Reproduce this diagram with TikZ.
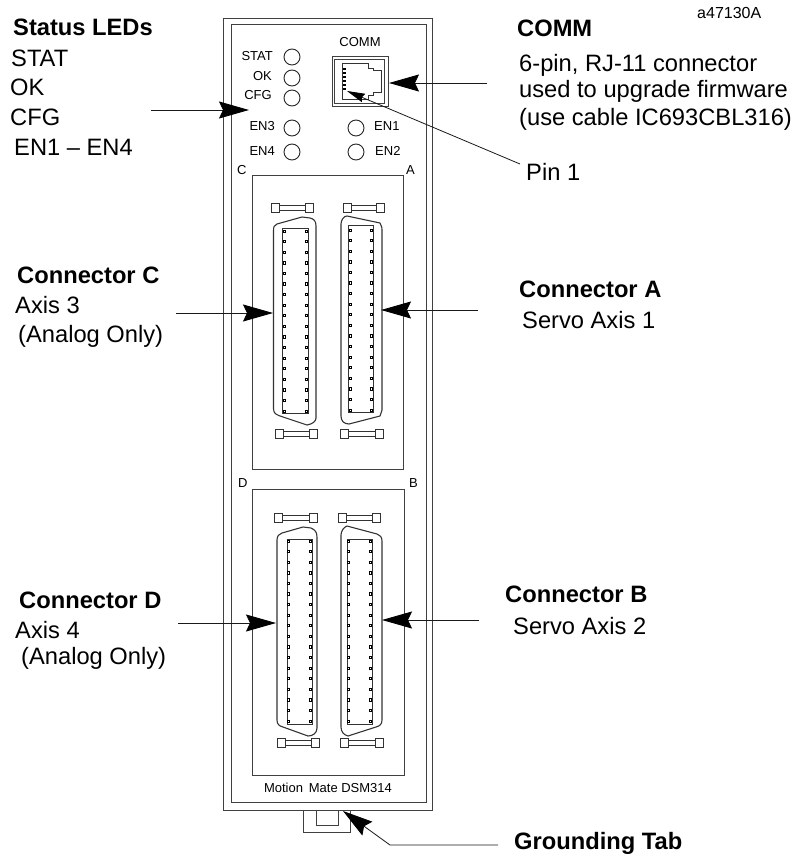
\documentclass[tikz,border=0pt]{standalone}
\usepackage{fontspec}
\setmainfont{Liberation Sans}
\usetikzlibrary{arrows.meta}

\tikzset{
  biglabel/.style={anchor=base west, inner sep=0pt, font=\fontsize{23.7}{26}\selectfont},
  boldlabel/.style={biglabel, font=\fontsize{23.7}{26}\selectfont\bfseries},
  smalllabel/.style={anchor=base west, inner sep=0pt, font=\fontsize{13}{15}\selectfont},
  smallright/.style={smalllabel, anchor=base east},
  panel/.style={draw=black!75, line width=0.9pt},
  pointer/.style={line width=0.8pt, black!90, -{Stealth[length=30pt, width=17pt, inset=4pt, black]}},
  thinpointer/.style={line width=0.8pt, black!90, -{Stealth[length=18pt, width=9pt, inset=2pt, black]}},
  shell/.style={draw=black!80, line width=1.1pt, line join=round},
  pinbox/.style={draw=black!80, line width=0.9pt}
}

% retaining clip: left x, right x, top y
\newcommand{\clipbar}[3]{
  \draw[pinbox] (#1,#3) rectangle ++(8,9.5);
  \draw[pinbox] (#2-8,#3) rectangle ++(8,9.5);
  \draw[pinbox] (#1+8,#3+2) rectangle (#2-8,#3+7.5);
}

% two rows of pins: left x, right x, top y, bottom y
\newcommand{\pinrows}[4]{
  \foreach \n in {0,...,17} {
    \pgfmathsetmacro{\py}{#3+\n*(#4-#3)/17}
    \draw[black, line width=0.7pt] (#1-1.1,\py-1.1) rectangle ++(2.2,2.2);
    \draw[black, line width=0.7pt] (#2-1.1,\py-1.1) rectangle ++(2.2,2.2);
  }
}

\begin{document}
\begin{tikzpicture}[x=1pt, y=-1pt]
  \useasboundingbox (0,0) rectangle (799,856);

  % module body
  \draw[panel] (223,18) rectangle (432,810);
  \draw[panel] (231,24) rectangle (426,802);
  \draw[panel] (252,175) rectangle (403,469);
  \draw[panel] (252,489) rectangle (404,775);

  % grounding tab
  \draw[panel] (303,810) -- (303,832) -- (350,832) -- (350,810);
  \draw[panel] (316,810) -- (316,825) -- (338,825) -- (338,810);

  % LEDs
  \foreach \x/\y in {292/57, 292/78, 292/98, 292/128, 292/152, 356/128, 356/152} {
    \draw[black!85, line width=0.9pt] (\x,\y) circle (8);
  }
  \node[smallright] (statled) at (273,61) {STAT};
  \node[smallright] (okled) at (272,81) {OK};
  \node[smallright] (cfgled) at (272,100) {CFG};
  \node[smallright] (enthree) at (275,131) {EN3};
  \node[smallright] (enfour) at (275,155) {EN4};
  \node[smalllabel] (enone) at (374,131) {EN1};
  \node[smalllabel] (entwo) at (375,155) {EN2};

  % RJ-11 jack
  \node[smalllabel, anchor=base] (commtop) at (360,47) {COMM};
  \draw[panel] (332,56) rectangle (388,106);
  \draw[panel] (334,59) rectangle (384,103);
  \draw[pinbox] (342,63) -- (368,63) -- (368,68) -- (373,68) -- (373,70) -- (381,70)
    -- (381,92) -- (373,92) -- (373,95) -- (368,95) -- (368,99) -- (342,99) -- cycle;
  \foreach \y in {69,73,77,81,85,89} {
    \fill[black] (343,\y-1) rectangle ++(2.5,2);
  }

  % small letters at the boxes
  \node[smalllabel] (letterc) at (237,174) {C};
  \node[smalllabel] (lettera) at (406,174) {A};
  \node[smalllabel] (letterd) at (238,487) {D};
  \node[smalllabel] (letterb) at (409,487) {B};
  \node[smalllabel, anchor=base] (modname) at (328,792) {Motion\, Mate DSM314};

  % connector C
  \clipbar{271}{313}{203}
  \draw[shell] (273.5,409) -- (273.5,231) .. controls (273.5,227) and (274,225) .. (277,224)
    -- (302,217) -- (310,218) .. controls (314,219) and (316,221) .. (316,226)
    -- (316,418) .. controls (316,421) and (313,424) .. (307,425) -- (283,417)
    .. controls (277,415) and (273.5,414) .. (273.5,409) -- cycle;
  \draw[pinbox] (282,228) rectangle (308,413);
  \pinrows{284}{306}{231}{411}
  \clipbar{275}{317}{429}

  % connector A
  \clipbar{343}{384}{203}
  \draw[shell] (341,416) -- (341,224) .. controls (341,220) and (344,216) .. (347,216)
    -- (380,223) .. controls (382,226) and (382,228) .. (382,232)
    -- (382,410) -- (380,416) -- (349,424) .. controls (344,424) and (341,421) .. (341,416) -- cycle;
  \draw[pinbox] (348,225) rectangle (373,412);
  \pinrows{350}{371}{230}{410}
  \clipbar{340}{383}{429}

  % connector D
  \clipbar{274}{317}{513}
  \draw[shell] (277,720) -- (277,540) .. controls (277,536) and (279,534) .. (282,533)
    -- (303,527) -- (311,528) .. controls (315,530) and (317,532) .. (317,537)
    -- (317,728) .. controls (317,733) and (313,736) .. (308,736) -- (283,727) .. controls (279,726) and (277,724) .. (277,720) -- cycle;
  \draw[pinbox] (287,539) rectangle (312,724);
  \pinrows{288}{310}{541}{721}
  \clipbar{277}{319}{738}

  % connector B
  \clipbar{338}{380}{513}
  \draw[shell] (341,727) -- (341,535) .. controls (341,531) and (344,527) .. (347,526)
    -- (377,534) .. controls (380,535) and (382,537) .. (382,541)
    -- (382,720) .. controls (382,724) and (380,726) .. (376,727) -- (348,736)
    .. controls (344,735) and (341,732) .. (341,727) -- cycle;
  \draw[pinbox] (347,539) rectangle (372,724);
  \pinrows{348}{370}{541}{721}
  \clipbar{340}{383}{738}

  % texts outside the module
  \node[smalllabel, anchor=base west, font=\fontsize{16}{18}\selectfont] (partno) at (697,19) {a47130A};

  \node[boldlabel] (ledtitle) at (13,36) {Status LEDs};
  \node[biglabel] (ledstat) at (11,67) {STAT};
  \node[biglabel] (ledok) at (10,96) {OK};
  \node[biglabel] (ledcfg) at (10,125) {CFG};
  \node[biglabel] (leden) at (14,155) {EN1 -- EN4};

  \node[boldlabel] (commtitle) at (517,37) {COMM};
  \node[biglabel] (commone) at (519,72) {6-pin, RJ-11 connector};
  \node[biglabel] (commtwo) at (519,98) {used to upgrade firmware};
  \node[biglabel] (commthree) at (519,125) {(use cable IC693CBL316)};
  \node[biglabel] (pinone) at (526,180) {Pin 1};

  \node[boldlabel] (conctitle) at (17,283) {Connector C};
  \node[biglabel] (concone) at (15,313) {Axis 3};
  \node[biglabel] (conctwo) at (18,342) {(Analog Only)};

  \node[boldlabel] (conatitle) at (519,297) {Connector A};
  \node[biglabel] (conaone) at (522,328) {Servo Axis 1};

  \node[boldlabel] (condtitle) at (19,608) {Connector D};
  \node[biglabel] (condone) at (15,638) {Axis 4};
  \node[biglabel] (condtwo) at (21,664) {(Analog Only)};

  \node[boldlabel] (conbtitle) at (505,602) {Connector B};
  \node[biglabel] (conbone) at (513,634) {Servo Axis 2};

  \node[boldlabel] (gndtitle) at (514,849) {Grounding Tab};

  % pointer ends
  \coordinate (ledtail) at (151,110);
  \coordinate (ledtip) at (249,110);
  \coordinate (commtail) at (487,83);
  \coordinate (commtip) at (389,83);
  \coordinate (pintail) at (520,164);
  \coordinate (pintip) at (347,91);
  \coordinate (ctail) at (176,313);
  \coordinate (ctip) at (273,313);
  \coordinate (atail) at (478,310);
  \coordinate (atip) at (381,310);
  \coordinate (dtail) at (178,623);
  \coordinate (dtip) at (276,623);
  \coordinate (btail) at (479,620);
  \coordinate (btip) at (382,620);
  \coordinate (gndtail) at (498,845);
  \coordinate (gndknee) at (390,845);
  \coordinate (gndtip) at (343,811);

  % pointers
  \draw[pointer] (ledtail) -- (ledtip);
  \draw[pointer] (commtail) -- (commtip);
  \draw[thinpointer] (pintail) -- (pintip);
  \draw[pointer] (ctail) -- (ctip);
  \draw[pointer] (atail) -- (atip);
  \draw[pointer] (dtail) -- (dtip);
  \draw[pointer] (btail) -- (btip);
  \draw[pointer] (gndtail) -- (gndknee) -- (gndtip);
\end{tikzpicture}
\end{document}
